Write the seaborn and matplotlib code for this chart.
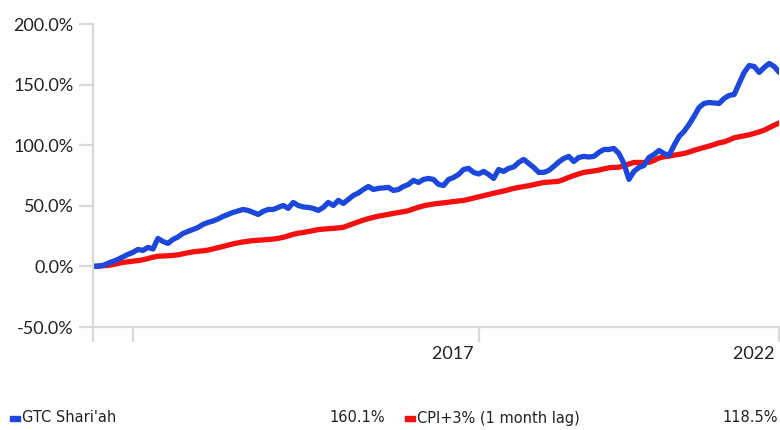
import numpy as np
import pandas as pd
import matplotlib
matplotlib.use("Agg")
import matplotlib.pyplot as plt
import matplotlib.patches as mpatches
import seaborn as sns

# monthly cumulative returns (%)
gtc = [0.0, 0.3, 0.8, 2.5, 4.1, 5.8, 7.8, 9.9, 11.6, 14.0,
       13.2, 15.7, 14.4, 23.1, 20.6, 19.0, 22.3, 24.3, 27.2, 28.9,
       30.5, 32.2, 34.7, 36.3, 37.5, 39.2, 41.3, 42.9, 44.6, 45.8,
       47.0, 46.2, 44.6, 42.9, 45.4, 47.0, 47.0, 48.7, 50.3, 47.9,
       52.8, 50.3, 49.1, 48.7, 47.9, 46.2, 48.7, 52.8, 50.3, 54.5,
       52.0, 55.3, 58.6, 60.6, 63.5, 66.0, 63.5, 64.4, 64.8, 65.2,
       62.7, 63.5, 66.0, 67.7, 71.0, 69.3, 71.8, 72.6, 71.8, 67.7,
       66.8, 71.8, 73.4, 75.9, 80.0, 80.9, 77.6, 76.3, 78.4, 75.9,
       72.6, 80.0, 78.4, 80.9, 82.1, 85.8, 88.3, 85.0, 81.7, 77.6,
       77.6, 79.2, 82.5, 86.2, 89.1, 90.8, 86.6, 89.9, 90.8, 90.3,
       90.8, 94.1, 96.5, 96.5, 97.4, 93.2, 85.0, 71.8, 78.4, 81.7,
       83.3, 89.9, 92.4, 95.7, 93.2, 91.6, 99.8, 107.3, 111.4, 117.2,
       123.8, 131.2, 134.5, 135.3, 134.9, 134.5, 138.6, 141.1, 141.9, 151.0,
       160.1, 165.8, 165.0, 160.1, 164.2, 167.5, 165.0, 160.1]

cpi = [0.0, 0.2, 0.5, 0.8, 1.5, 2.4, 3.3, 3.8, 4.3, 4.8,
       5.5, 6.5, 7.6, 8.4, 8.6, 8.8, 9.1, 9.6, 10.4, 11.3,
       12.0, 12.5, 12.9, 13.5, 14.5, 15.5, 16.5, 17.6, 18.6, 19.5,
       20.2, 20.8, 21.3, 21.6, 21.9, 22.2, 22.6, 23.2, 24.0, 25.2,
       26.5, 27.4, 28.0, 28.8, 29.6, 30.4, 30.8, 31.1, 31.4, 31.8,
       32.3, 33.8, 35.3, 36.8, 38.2, 39.4, 40.5, 41.5, 42.2, 43.0,
       43.7, 44.5, 45.2, 46.0, 47.5, 48.8, 50.0, 50.8, 51.5, 52.0,
       52.5, 53.0, 53.6, 54.0, 54.5, 55.4, 56.4, 57.4, 58.4, 59.4,
       60.4, 61.3, 62.2, 63.3, 64.4, 65.2, 65.9, 66.6, 67.5, 68.4,
       69.3, 69.6, 69.9, 70.3, 71.8, 73.5, 75.0, 76.4, 77.6, 78.2,
       78.8, 79.5, 80.5, 81.4, 81.7, 81.9, 83.0, 84.5, 85.8, 85.8,
       85.8, 85.9, 87.5, 89.5, 90.5, 91.0, 91.8, 92.5, 93.2, 94.4,
       95.8, 97.0, 98.2, 99.3, 100.6, 102.0, 102.8, 104.3, 106.2, 107.0,
       107.8, 108.6, 109.8, 111.0, 112.5, 114.5, 116.5, 118.5]

names = ["GTC Shari'ah", "CPI+3% (1 month lag)"]
final_labels = ["160.1%", "118.5%"]
colors = ["#1b47dd", "#f5100f"]
tick_pos = [0, 8, 77, 137]
tick_labels = ["", "", "2017 ", "2022 "]

df = pd.DataFrame({
    "month": list(range(len(gtc))) + list(range(len(cpi))),
    "value": gtc + cpi,
    "series": [names[0]] * len(gtc) + [names[1]] * len(cpi),
})

sns.set_style("white")
plt.rcParams["font.family"] = ["Lato", "DejaVu Sans"]

fig = plt.figure(figsize=(7.8, 4.3), dpi=100)
ax = fig.add_axes([0.119, 0.2395, 0.880, 0.7045])

sns.lineplot(data=df, x="month", y="value", hue="series",
             hue_order=[names[1], names[0]],
             palette={names[0]: colors[0], names[1]: colors[1]},
             linewidth=3.8, legend=False, ax=ax)

ax.set_xlim(0, 137)
ax.set_ylim(-50, 200)
ax.set_yticks(range(-50, 201, 50))
ax.set_yticklabels([f"{v:.1f}%" for v in range(-50, 201, 50)])
ax.set_xticks(tick_pos)
ax.set_xticklabels(tick_labels, ha="right")
ax.set_xlabel("")
ax.set_ylabel("")

for s in ["top", "right"]:
    ax.spines[s].set_visible(False)
for s in ["left", "bottom"]:
    ax.spines[s].set_color("#d9d9d9")
    ax.spines[s].set_linewidth(1.6)

ax.tick_params(axis="y", length=10, width=1.6, color="#d9d9d9",
               labelsize=13, labelcolor="#222222", pad=4, left=True)
ax.tick_params(axis="x", length=11, width=1.6, color="#d9d9d9",
               labelsize=13, labelcolor="#222222", pad=3, bottom=True)

# legend row at the bottom
legend_font = ["Liberation Sans Narrow", "DejaVu Sans"]
ly = 12 / 430
for i, (x0, xr) in enumerate([(10, 385), (405, 778)]):
    fig.patches.append(mpatches.Rectangle((x0 / 780, (430 - 421) / 430), 10 / 780, 5 / 430,
                                          transform=fig.transFigure, color=colors[i]))
    fig.text((x0 + 12) / 780, ly, names[i], fontsize=10.5, family=legend_font,
             color="#222222", va="center", ha="left")
    fig.text(xr / 780, ly, final_labels[i], fontsize=10.5, family=legend_font,
             color="#222222", va="center", ha="right")

fig.savefig("out.png", dpi=100)
